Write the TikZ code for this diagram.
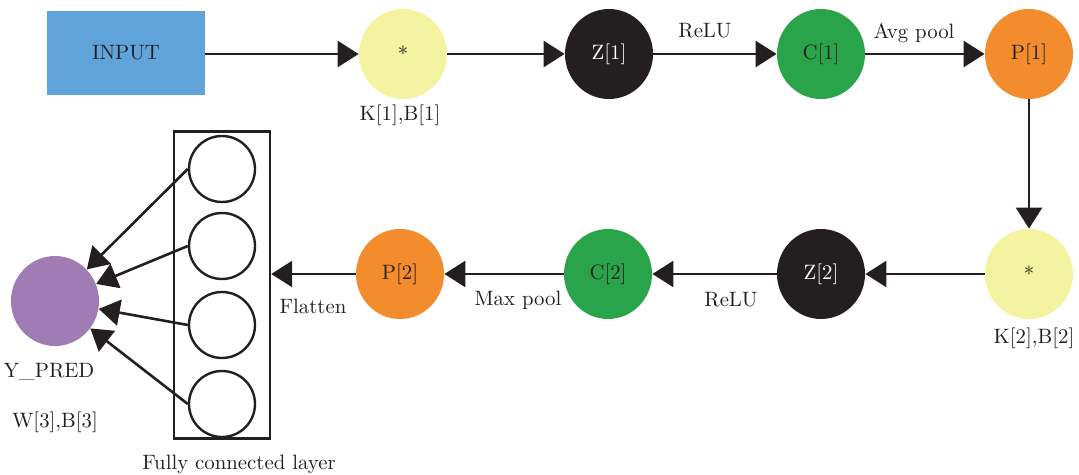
\documentclass[tikz,border=0pt]{standalone}
\usepackage{tikz}
\usetikzlibrary{arrows.meta,shapes.geometric}

\definecolor{inblue}{RGB}{96,164,218}
\definecolor{convyellow}{RGB}{243,243,161}
\definecolor{zblack}{RGB}{35,31,32}
\definecolor{cgreen}{RGB}{42,164,74}
\definecolor{porange}{RGB}{242,140,44}
\definecolor{ypurple}{RGB}{160,124,181}

\tikzset{
	unit/.style={ellipse, minimum width=44pt, minimum height=45pt, inner sep=0pt, text=zblack},
	arr/.style={-{Triangle[length=10.5pt,width=13pt]}, line width=1.3pt, draw=zblack},
	fcunit/.style={circle, draw=zblack, line width=1.2pt, minimum size=33pt, inner sep=0pt},
	lbl/.style={text=zblack}
}

\begin{document}
\begin{tikzpicture}[x=0.5pt,y=-0.5pt, font=\fontsize{10.4}{12.5}\selectfont]
			\useasboundingbox (0,0) rectangle (1079,475);
			
			% top row
			\node[fill=inblue, minimum width=79pt, minimum height=42pt, text=zblack] (input) at (126,53) {INPUT};
			\node[unit, fill=convyellow] (k1) at (403,54) {*};
			\node[unit, fill=zblack, text=white] (z1) at (609,54) {Z[1]};
			\node[unit, fill=cgreen] (c1) at (821,54) {C[1]};
			\node[unit, fill=porange] (p1) at (1029,54) {P[1]};
			
			% bottom row
			\node[unit, fill=convyellow] (k2) at (1029,274) {*};
			\node[unit, fill=zblack, text=white] (z2) at (821,274) {Z[2]};
			\node[unit, fill=cgreen] (c2) at (608,274) {C[2]};
			\node[unit, fill=porange] (p2) at (400,274) {P[2]};
			\node[unit, fill=ypurple] (ypred) at (55,301) {};
			
			% fully connected layer
			\node[draw=zblack, line width=1.2pt, minimum width=48pt, minimum height=153.5pt, inner sep=0pt] (fc) at (222,285) {};
			\foreach \i/\y in {1/169, 2/246, 3/325, 4/404} {
				\node[fcunit] (fc\i) at (222,\y) {};
				\draw[arr] (fc\i.west) -- (ypred);
			}
			
			\draw[arr] (input.east |- k1) -- (k1);
			\draw[arr] (k1) -- (z1);
			\draw[arr] (z1) -- (c1);
			\draw[arr] (c1) -- (p1);
			\draw[arr] (p1) -- (k2);
			\draw[arr] (k2) -- (z2);
			\draw[arr] (z2) -- (c2);
			\draw[arr] (c2) -- (p2);
			\draw[arr] (p2) -- (p2 -| fc.east);
			
			% labels
			\node[lbl] (k1lbl) at (400,115) {K[1],B[1]};
			\node[lbl] (relu1) at (705,31) {ReLU};
			\node[lbl] (avgpool) at (914,33) {Avg pool};
			\node[lbl] (k2lbl) at (1034,338) {K[2],B[2]};
			\node[lbl] (relu2) at (731,300) {ReLU};
			\node[lbl] (maxpool) at (518,300) {Max pool};
			\node[lbl] (flatten) at (313,306) {Flatten};
			\node[lbl] (ypredlbl) at (49,372) {Y\_PRED};
			\node[lbl] (wlbl) at (55,422) {W[3],B[3]};
			\node[lbl] (fclbl) at (239,464) {Fully connected layer};
\end{tikzpicture}
\end{document}
